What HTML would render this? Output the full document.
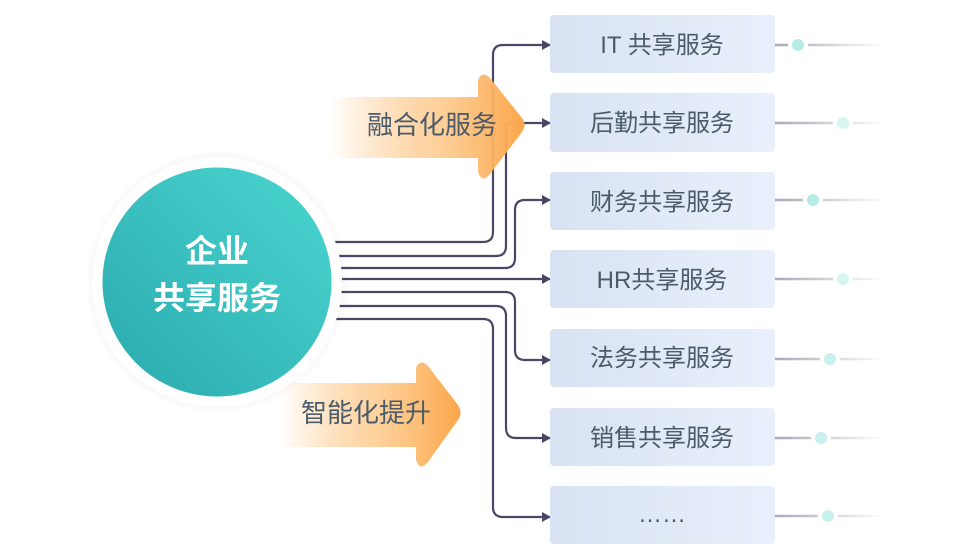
<!DOCTYPE html>
<html><head><meta charset="utf-8"><style>
html,body{margin:0;padding:0;background:#fff;}
svg{display:block;font-family:"Liberation Sans","Noto Sans CJK SC",sans-serif;}
</style></head><body>
<svg width="962" height="558" viewBox="0 0 962 558" xmlns="http://www.w3.org/2000/svg">
<defs>
<linearGradient id="org" x1="0" x2="1" y1="0" y2="0">
<stop offset="0" stop-color="#fdb45c" stop-opacity="0"/>
<stop offset="0.55" stop-color="#fdc98a" stop-opacity="0.85"/>
<stop offset="1" stop-color="#fca64a"/>
</linearGradient>
<linearGradient id="teal" x1="1" y1="0" x2="0" y2="1">
<stop offset="0" stop-color="#4ad6d0"/>
<stop offset="1" stop-color="#2aa9ae"/>
</linearGradient>
<linearGradient id="box" x1="0" x2="1">
<stop offset="0" stop-color="#d8e2f2"/>
<stop offset="1" stop-color="#e9f0fc"/>
</linearGradient>
<linearGradient id="tail" gradientUnits="userSpaceOnUse" x1="775" y1="0" x2="885" y2="0">
<stop offset="0" stop-color="#aaa7ba"/>
<stop offset="1" stop-color="#fff"/>
</linearGradient>
<radialGradient id="sh"><stop offset="0.85" stop-color="#000" stop-opacity="0.08"/><stop offset="1" stop-color="#000" stop-opacity="0"/></radialGradient>
<marker id="ah" markerWidth="10" markerHeight="10" refX="8" refY="5" orient="auto" markerUnits="userSpaceOnUse">
<path d="M0,0 L9,5 L0,10 Z" fill="#4a4766"/>
</marker>
</defs>

<!-- connectors -->
<g fill="none" stroke="#4a4766" stroke-width="2.2" marker-end="url(#ah)">
<path d="M330,242 H483 Q493,242 493,232 V55 Q493,45 503,45 H550"/>
<path d="M330,256 H496 Q506,256 506,246 V123 H550"/>
<path d="M330,268 H505 Q515,268 515,258 V210 Q515,200 525,200 H550"/>
<path d="M330,279 H550"/>
<path d="M330,292 H505 Q515,292 515,302 V350 Q515,360 525,360 H550"/>
<path d="M330,306 H496 Q506,306 506,316 V428 Q506,438 516,438 H550"/>
<path d="M330,319 H483 Q493,319 493,329 V507 Q493,517 503,517 H550"/>
</g>

<!-- arrows -->
<path d="M330,97 H478 V80 Q482,70 490,78 L522,118 Q527,125 522,132 L490,174 Q482,184 478,172 V158 H330 Z" fill="url(#org)"/>
<path d="M280,383 H416 V368 Q420,358 428,366 L458,405 Q463,413 458,420 L428,462 Q420,472 416,460 V447 H280 Z" fill="url(#org)"/>
<text x="432" y="134" font-size="26" fill="#4b5b6a" text-anchor="middle">融合化服务</text>
<text x="366" y="422" font-size="26" fill="#4b5b6a" text-anchor="middle">智能化提升</text>

<!-- circle -->
<circle cx="217" cy="282" r="132" fill="url(#sh)"/>
<circle cx="217" cy="282" r="125" fill="#fff"/>
<circle cx="217" cy="282" r="114.5" fill="url(#teal)"/>
<text x="217" y="262" font-size="32" font-weight="bold" fill="#fff" text-anchor="middle">企业</text>
<text x="217" y="309" font-size="32" font-weight="bold" fill="#fff" text-anchor="middle">共享服务</text>

<!-- boxes -->
<g>
<rect x="550" y="15" width="225" height="58" rx="4" fill="url(#box)"/>
<rect x="550" y="93" width="225" height="59" rx="4" fill="url(#box)"/>
<rect x="550" y="172" width="225" height="58" rx="4" fill="url(#box)"/>
<rect x="550" y="250" width="225" height="58" rx="4" fill="url(#box)"/>
<rect x="550" y="329" width="225" height="58" rx="4" fill="url(#box)"/>
<rect x="550" y="408" width="225" height="58" rx="4" fill="url(#box)"/>
<rect x="550" y="486" width="225" height="58" rx="4" fill="url(#box)"/>
</g>
<g font-size="24" fill="#4b5b6a" text-anchor="middle">
<text x="662" y="53">IT 共享服务</text>
<text x="662" y="131">后勤共享服务</text>
<text x="662" y="210">财务共享服务</text>
<text x="662" y="288">HR共享服务</text>
<text x="662" y="366">法务共享服务</text>
<text x="662" y="446">销售共享服务</text>
<text x="662" y="522">……</text>
</g>

<!-- tails -->
<g stroke="url(#tail)" stroke-width="2.5" fill="none">
<path d="M775,45 H885"/>
<path d="M775,123 H885"/>
<path d="M775,200 H885"/>
<path d="M775,279 H885"/>
<path d="M775,359 H885"/>
<path d="M775,438 H885"/>
<path d="M775,516 H885"/>
</g>
<g stroke="#fff" stroke-width="4" fill="#b5ece6">
<circle cx="798" cy="45" r="8"/>
<circle cx="843" cy="123" r="8" fill="#d8f5f2"/>
<circle cx="813" cy="200" r="8"/>
<circle cx="843" cy="279" r="8" fill="#d8f5f2"/>
<circle cx="830" cy="359" r="8" fill="#c8f0ec"/>
<circle cx="821" cy="438" r="8" fill="#c8f0ec"/>
<circle cx="828" cy="516" r="8" fill="#c8f0ec"/>
</g>
</svg>
</body></html>
